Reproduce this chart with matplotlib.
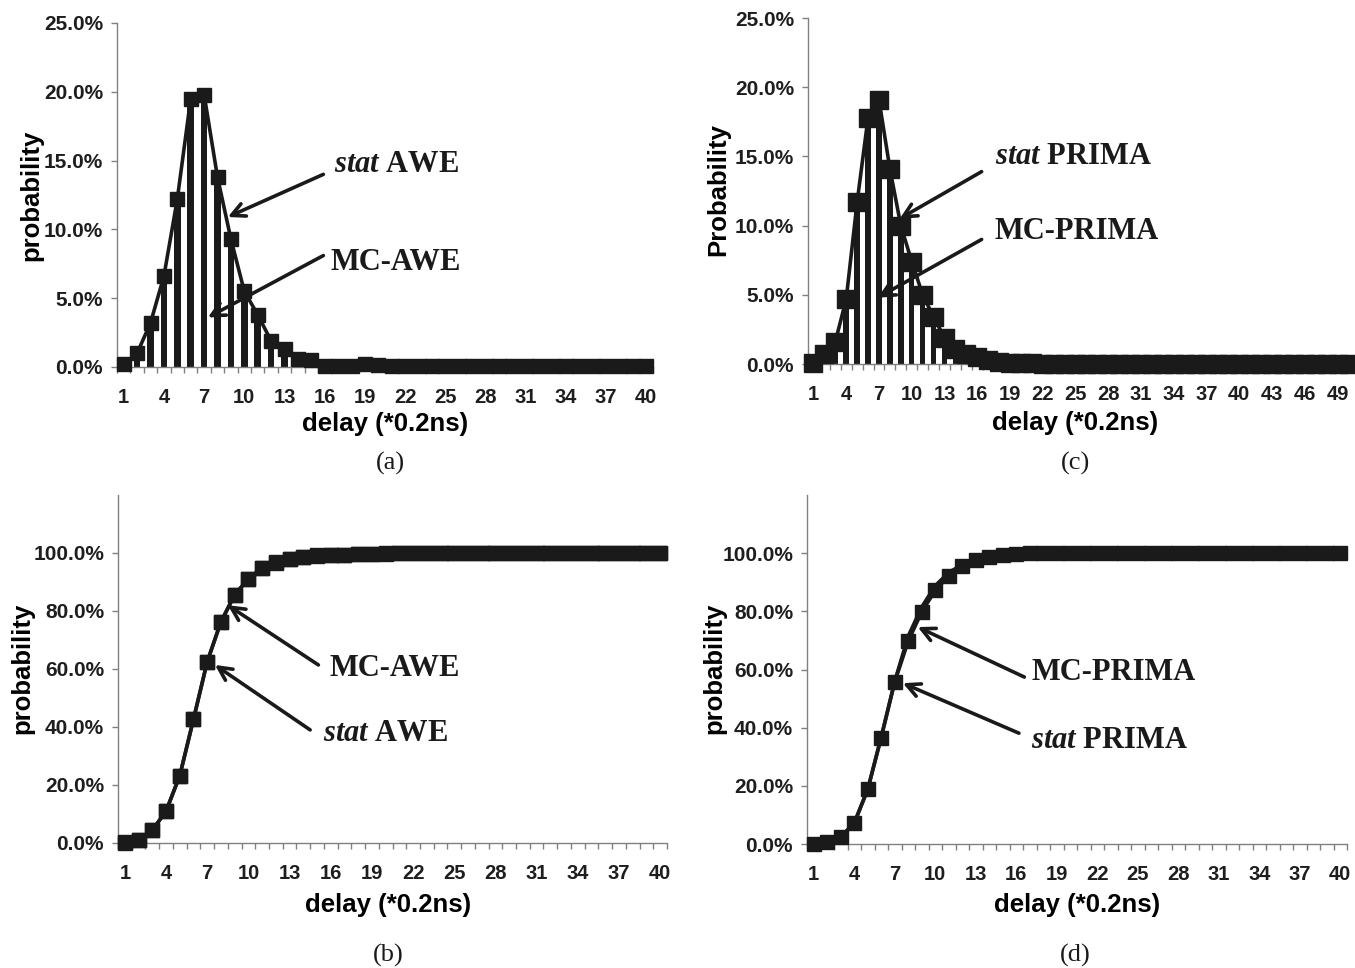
import numpy as np
import matplotlib
matplotlib.use("Agg")
import matplotlib.pyplot as plt
from matplotlib.ticker import PercentFormatter, FixedLocator

plt.rcParams['font.family'] = ['Liberation Sans', 'DejaVu Sans']
plt.rcParams['mathtext.fontset'] = 'custom'
plt.rcParams['mathtext.it'] = 'Liberation Serif:italic:bold'
plt.rcParams['mathtext.rm'] = 'Liberation Serif:bold'

# ---------------- data (probabilities, %) ----------------
cats40 = list(range(1, 41))
cats50 = list(range(1, 51))

# (a) pdf, AWE
stat_awe = [0.2, 1.0, 3.2, 6.6, 12.2, 19.5, 19.8, 13.8, 9.3, 5.5,
            3.8, 1.9, 1.3, 0.6, 0.5, 0.1, 0.1, 0.1, 0.25, 0.15,
            0.1, 0.05, 0.05, 0.05, 0.05, 0.05, 0.05, 0.05, 0.05, 0.05,
            0.05, 0.05, 0.05, 0.05, 0.05, 0.05, 0.05, 0.05, 0.05, 0.05]
mc_awe = [0.1, 0.8, 3.0, 6.5, 12.4, 19.6, 20.0, 13.7, 9.2, 5.4,
          3.7, 2.0, 1.2, 0.7, 0.5, 0.2, 0.1, 0.1, 0.2, 0.1,
          0.05, 0.05, 0.05, 0.05, 0.05, 0.05, 0.05, 0.05, 0.05, 0.05,
          0.05, 0.05, 0.05, 0.05, 0.05, 0.05, 0.05, 0.05, 0.05, 0.05]

# (c) pdf, PRIMA
stat_prima = [0.1, 0.7, 1.6, 4.7, 11.7, 17.8, 19.1, 14.1, 10.0, 7.4,
              5.0, 3.4, 1.9, 1.1, 0.7, 0.5, 0.3, 0.15, 0.1, 0.05,
              0.05, 0.03, 0.03, 0.03, 0.03, 0.03, 0.03, 0.03, 0.03, 0.03,
              0.03, 0.03, 0.03, 0.03, 0.03, 0.03, 0.03, 0.03, 0.03, 0.03,
              0.03, 0.03, 0.03, 0.03, 0.03, 0.03, 0.03, 0.03, 0.03, 0.03]
mc_prima = [0.1, 0.5, 1.8, 4.9, 11.5, 18.1, 18.8, 14.3, 9.8, 7.2,
            5.1, 3.2, 2.0, 1.2, 0.8, 0.4, 0.25, 0.1, 0.05, 0.05,
            0.03, 0.03, 0.03, 0.03, 0.03, 0.03, 0.03, 0.03, 0.03, 0.03,
            0.03, 0.03, 0.03, 0.03, 0.03, 0.03, 0.03, 0.03, 0.03, 0.03,
            0.03, 0.03, 0.03, 0.03, 0.03, 0.03, 0.03, 0.03, 0.03, 0.03]

# (b) cdf, AWE
mc_awe_cdf = [0.1, 1.0, 4.4, 11.0, 23.2, 42.6, 62.5, 76.2, 85.6, 91.0,
              94.8, 96.7, 97.9, 98.5, 99.0, 99.2, 99.35, 99.5, 99.7, 99.8,
              99.85, 99.9, 99.95, 99.95, 99.95, 100, 100, 100, 100, 100,
              100, 100, 100, 100, 100, 100, 100, 100, 100, 100]
stat_awe_cdf = [0.2, 1.2, 4.4, 11.0, 23.2, 42.7, 62.5, 76.3, 85.6, 91.1,
                94.9, 96.8, 98.1, 98.7, 99.2, 99.3, 99.4, 99.5, 99.75, 99.85,
                99.9, 99.9, 99.95, 99.95, 99.95, 100, 100, 100, 100, 100,
                100, 100, 100, 100, 100, 100, 100, 100, 100, 100]

# (d) cdf, PRIMA
mc_prima_cdf = [0.1, 0.6, 2.4, 7.3, 18.8, 36.9, 56.0, 71.5, 81.5, 88.8,
                93.4, 96.0, 97.7, 98.7, 99.3, 99.7, 99.9, 100, 100, 100,
                100, 100, 100, 100, 100, 100, 100, 100, 100, 100,
                100, 100, 100, 100, 100, 100, 100, 100, 100, 100]
stat_prima_cdf = [0.1, 0.8, 2.4, 7.1, 18.8, 36.6, 55.7, 69.8, 79.8, 87.2,
                  92.2, 95.6, 97.5, 98.6, 99.3, 99.7, 99.9, 100, 100, 100,
                  100, 100, 100, 100, 100, 100, 100, 100, 100, 100,
                  100, 100, 100, 100, 100, 100, 100, 100, 100, 100]

INK = '#1a1a1a'
AXC = '#808080'


def style_axis(ax, n, ymax, ystep, ytop_tick):
    for s in ['top', 'right']:
        ax.spines[s].set_visible(False)
    for s in ['left', 'bottom']:
        ax.spines[s].set_color(AXC)
        ax.spines[s].set_linewidth(1.0)
    ax.set_xlim(0.5, n + 0.5)
    ax.set_ylim(0, ymax)
    ax.set_xticks(list(range(1, n + 1, 3)))
    ax.set_xticklabels([str(i) for i in range(1, n + 1, 3)])
    ax.xaxis.set_minor_locator(FixedLocator([i + 0.5 for i in range(0, n + 1)]))
    ax.tick_params(axis='x', which='major', length=0, pad=15, labelsize=14.5)
    ax.tick_params(axis='x', which='minor', length=4, width=1, color=AXC, direction='out')
    ax.set_yticks(np.arange(0, ytop_tick + 1e-9, ystep))
    ax.yaxis.set_major_formatter(PercentFormatter(1.0, decimals=1))
    ax.tick_params(axis='y', length=4, width=1, color=AXC, pad=6, labelsize=15)
    for lab in ax.get_xticklabels() + ax.get_yticklabels():
        lab.set_fontweight('bold')
        lab.set_color('#1e1e1e')


def arrow(ax, head, tail):
    ax.annotate('', xy=head, xytext=tail,
                arrowprops=dict(arrowstyle='->', lw=2.6, color=INK, mutation_scale=24,
                                shrinkA=0, shrinkB=0))


def label(ax, x, y, s):
    ax.text(x, y, s, fontsize=22, fontweight='bold', family='Liberation Serif',
            color=INK, ha='left', va='center')


W, H = 1355, 968
fig = plt.figure(figsize=(W / 100, H / 100), dpi=100)


def place(l, r, b, t):
    return fig.add_axes([l / W, 1 - b / H, (r - l) / W, (b - t) / H])


pct = lambda v: [x / 100.0 for x in v]

# ---------------- (a) ----------------
ax = place(117, 653, 367, 23)
ax.bar(cats40, pct(mc_awe), width=0.5, color=INK, zorder=2)
ax.plot(cats40, pct(stat_awe), color=INK, lw=2.6, marker='s', ms=10.5, zorder=3, clip_on=False)
style_axis(ax, 40, 0.25, 0.05, 0.25)
ax.set_xlabel('delay (*0.2ns)', fontsize=18.5, fontweight='bold', va='center')
ax.xaxis.set_label_coords(0.5, -0.166)
ax.set_ylabel('probability', fontsize=18.5, fontweight='bold', va='center')
ax.yaxis.set_label_coords(-0.159, 0.5)
arrow(ax, (8.77, 0.109), (15.9, 0.140))
arrow(ax, (7.28, 0.036), (15.9, 0.081))
label(ax, 16.7, 0.147, r'$stat$ AWE')
label(ax, 16.4, 0.076, 'MC-AWE')

# ---------------- (c) ----------------
ax = place(808, 1354, 364, 18)
ax.bar(cats50, pct(mc_prima), width=0.5, color=INK, zorder=2)
ax.plot(cats50, pct(stat_prima), color=INK, lw=2.6, marker='s', ms=12.5, zorder=3, clip_on=False)
style_axis(ax, 50, 0.25, 0.05, 0.25)
ax.set_xlabel('delay (*0.2ns)', fontsize=18.5, fontweight='bold', va='center')
ax.xaxis.set_label_coords(0.489, -0.170)
ax.set_ylabel('Probability', fontsize=18.5, fontweight='bold', va='center')
ax.yaxis.set_label_coords(-0.165, 0.503)
arrow(ax, (8.9, 0.105), (16.4, 0.139))
arrow(ax, (6.9, 0.048), (16.4, 0.090))
label(ax, 17.6, 0.150, r'$stat$ PRIMA')
label(ax, 17.6, 0.096, 'MC-PRIMA')

# ---------------- (b) ----------------
ax = place(118, 667, 843, 495)
ax.plot(cats40, pct(mc_awe_cdf), color=INK, lw=2.6, marker='s', ms=10.5, zorder=3, clip_on=False)
ax.plot(cats40, pct(stat_awe_cdf), color=INK, lw=2.6, marker='s', ms=10.5, zorder=3, clip_on=False)
style_axis(ax, 40, 1.2, 0.2, 1.0)
ax.set_xlabel('delay (*0.2ns)', fontsize=18.5, fontweight='bold', va='center')
ax.xaxis.set_label_coords(0.492, -0.178)
ax.set_ylabel('probability', fontsize=18.5, fontweight='bold', va='center')
ax.yaxis.set_label_coords(-0.175, 0.503)
arrow(ax, (8.5, 0.82), (15.1, 0.614))
arrow(ax, (7.56, 0.614), (14.5, 0.39))
label(ax, 15.9, 0.603, 'MC-AWE')
label(ax, 15.4, 0.379, r'$stat$ AWE')

# ---------------- (d) ----------------
ax = place(807, 1347, 844, 495)
ax.plot(cats40, pct(mc_prima_cdf), color=INK, lw=2.6, zorder=3, clip_on=False)
ax.plot(cats40, pct(stat_prima_cdf), color=INK, lw=2.6, marker='s', ms=10.5, zorder=3, clip_on=False)
style_axis(ax, 40, 1.2, 0.2, 1.0)
ax.set_xlabel('delay (*0.2ns)', fontsize=18.5, fontweight='bold', va='center')
ax.xaxis.set_label_coords(0.5, -0.175)
ax.set_ylabel('probability', fontsize=18.5, fontweight='bold', va='center')
ax.yaxis.set_label_coords(-0.172, 0.504)
arrow(ax, (8.7, 0.746), (16.6, 0.574))
arrow(ax, (7.6, 0.553), (16.2, 0.381))
label(ax, 17.1, 0.591, 'MC-PRIMA')
label(ax, 17.1, 0.357, r'$stat$ PRIMA')

# panel captions
for s, x, y in [('(a)', 390, 463), ('(c)', 1075, 463), ('(b)', 388, 955), ('(d)', 1075, 955)]:
    fig.text(x / W, 1 - y / H, s, fontsize=19, family='Liberation Serif',
             ha='center', va='center', color=INK)

fig.savefig('out.png', dpi=100)
